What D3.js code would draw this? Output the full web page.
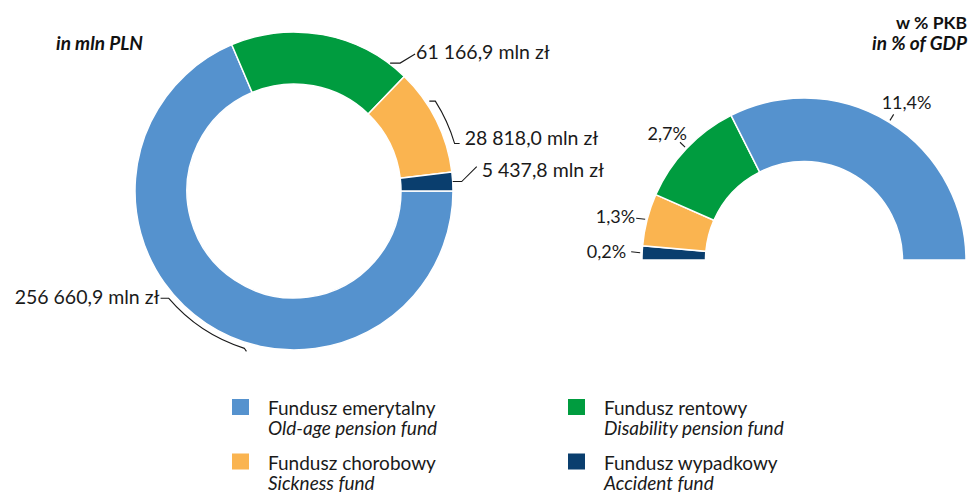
<!DOCTYPE html>
<html>
<head>
<meta charset="utf-8">
<script src="https://cdn.jsdelivr.net/npm/d3@7"></script>
<style>
  body { margin: 0; background: #fff; }
  svg { display: block; font-family: Lato, "Open Sans", sans-serif; }
</style>
</head>
<body>
<script>
// funds, in the order they are drawn (clockwise from 3 o'clock on the left ring)
const categories = ['Fundusz emerytalny', 'Fundusz rentowy', 'Fundusz chorobowy', 'Fundusz wypadkowy'];
const categoriesEn = ['Old-age pension fund', 'Disability pension fund', 'Sickness fund', 'Accident fund'];
// labelled values
const valuesPLN = [256660.9, 61166.9, 28818.0, 5437.8];
const valuesGDP = [11.4, 2.7, 1.3, 0.2];
// slice sizes as they are drawn in the picture (% of the ring)
const sliceLeft = [68.6, 18.6, 10.9, 1.9];
const sliceRight = [64.8, 21.9, 10.4, 2.8];

const width = 973, height = 493;
const deg = Math.PI / 180;

const color = d3.scaleOrdinal()
	.domain(categories)
	.range(['#5592ce', '#009c3f', '#fab450', '#0a3e6e']);

const pl = d3.formatLocale({ decimal: ',', thousands: '\u00a0', grouping: [3], currency: ['', ''] });
const fmt = pl.format(',.1f');

const svg = d3.select('body').append('svg')
	.attr('width', width)
	.attr('height', height);

svg.append('rect')
	.attr('width', width)
	.attr('height', height)
	.attr('fill', '#fff');

const rows = categories.map((c, i) => ({
	name: c, en: categoriesEn[i], pln: valuesPLN[i], gdp: valuesGDP[i],
	left: sliceLeft[i], right: sliceRight[i], i
}));

// point on a circle for a pie angle (0 = 12 o'clock, clockwise)
const pointAt = (cx, cy, a, r) => [cx + r * Math.sin(a), cy - r * Math.cos(a)];

// ---------- left ring: mln PLN ----------
const L = { cx: 294, cy: 191, R: 159, r: 107 };

const pieLeft = d3.pie()
	.sort(null)
	.value(d => d.left)
	.startAngle(Math.PI / 2)
	.endAngle(Math.PI / 2 + 2 * Math.PI);

const arcLeft = d3.arc().innerRadius(L.r).outerRadius(L.R);
const gL = svg.append('g').attr('transform', `translate(${L.cx},${L.cy})`);

const slicesL = pieLeft(rows);
gL.selectAll('path.slice')
	.data(slicesL)
	.join('path')
	.attr('class', 'slice')
	.attr('d', arcLeft)
	.attr('fill', d => color(d.data.name))
	.attr('stroke', '#fff')
	.attr('stroke-width', 1.5);

const leaderL = svg.append('g')
	.attr('fill', 'none')
	.attr('stroke', '#1a1a1a')
	.attr('stroke-width', 1.1);
const labelL = svg.append('g')
	.attr('font-size', 19.5)
	.attr('fill', '#1a1a1a');

slicesL.forEach(s => {
	const mid = (s.startAngle + s.endAngle) / 2;
	const txt = fmt(s.data.pln) + ' mln zł';
	const p = d3.path();
	let tx, ty, anchor = 'start';
	if (s.data.i === 0) {
		// bracket along the outside of the big slice, text to the left
		const rb = L.R + 6;
		const a0 = mid + 16 * deg, a1 = mid - 16 * deg;
		const b0 = pointAt(L.cx, L.cy, a0, rb), b1 = pointAt(L.cx, L.cy, a1, rb);
		p.moveTo(b0[0] - 8, b0[1]);
		p.lineTo(b0[0], b0[1]);
		p.arc(L.cx, L.cy, rb, a0 - Math.PI / 2, a1 - Math.PI / 2, true);
		p.lineTo(b1[0] + 2, b1[1] + 3);
		tx = b0[0] - 9; ty = b0[1] + 6; anchor = 'end';
	} else if (s.data.i === 1) {
		const p0 = pointAt(L.cx, L.cy, s.endAngle - 7 * deg, L.R + 1);
		p.moveTo(p0[0], p0[1]);
		p.lineTo(p0[0] + 10, p0[1]);
		p.lineTo(p0[0] + 25, p0[1] - 9);
		tx = p0[0] + 26; ty = p0[1] - 4;
	} else if (s.data.i === 2) {
		const rb = L.R + 8.5;
		const a0 = mid - 6 * deg, a1 = mid + 10 * deg;
		const b0 = pointAt(L.cx, L.cy, a0, rb), b1 = pointAt(L.cx, L.cy, a1, rb);
		p.moveTo(b0[0] - 6, b0[1]);
		p.lineTo(b0[0], b0[1]);
		p.arc(L.cx, L.cy, rb, a0 - Math.PI / 2, a1 - Math.PI / 2, false);
		p.lineTo(b1[0] + 5, b1[1]);
		tx = b1[0] + 10; ty = b1[1] + 1;
	} else {
		const p0 = pointAt(L.cx, L.cy, mid, L.R);
		p.moveTo(p0[0], p0[1]);
		p.lineTo(p0[0] + 9, p0[1]);
		p.lineTo(p0[0] + 24, p0[1] - 15);
		tx = p0[0] + 29; ty = p0[1] - 5;
	}
	leaderL.append('path').attr('d', p.toString());
	labelL.append('text')
		.attr('x', tx).attr('y', ty)
		.attr('text-anchor', anchor)
		.text(txt);
});

svg.append('text')
	.attr('x', 56).attr('y', 50)
	.attr('font-size', 19)
	.attr('font-weight', 700)
	.attr('font-style', 'italic')
	.attr('fill', '#111')
	.text('in mln PLN');

// ---------- right half ring: % of GDP ----------
const Rg = { cx: 804, cy: 260, R: 162, r: 98.5 };

const pieRight = d3.pie()
	.sort(null)
	.value(d => d.right)
	.startAngle(-Math.PI / 2)
	.endAngle(Math.PI / 2);

const arcRight = d3.arc().innerRadius(Rg.r).outerRadius(Rg.R);
const gR = svg.append('g').attr('transform', `translate(${Rg.cx},${Rg.cy})`);

// drawn left to right over the top: accident, sickness, disability, old-age
const slicesR = pieRight(rows.slice().reverse());
gR.selectAll('path.slice')
	.data(slicesR)
	.join('path')
	.attr('class', 'slice')
	.attr('d', arcRight)
	.attr('fill', d => color(d.data.name))
	.attr('stroke', '#fff')
	.attr('stroke-width', 1.5);

const leaderR = svg.append('g')
	.attr('fill', 'none')
	.attr('stroke', '#1a1a1a')
	.attr('stroke-width', 1.1);
const labelR = svg.append('g')
	.attr('font-size', 18)
	.attr('fill', '#1a1a1a');

slicesR.forEach(s => {
	const mid = (s.startAngle + s.endAngle) / 2;
	const txt = fmt(s.data.gdp) + '%';
	const p0 = pointAt(Rg.cx, Rg.cy, mid, Rg.R + 2);
	let p1, tx, ty, anchor;
	if (s.data.i <= 1) {
		// radial tick
		p1 = pointAt(Rg.cx, Rg.cy, mid, Rg.R + 9);
		if (s.data.i === 0) { tx = p1[0] - 12; ty = p1[1] - 5; anchor = 'start'; }
		else { tx = p1[0] + 7; ty = p1[1] - 2; anchor = 'end'; }
	} else {
		// short horizontal tick
		p1 = [p0[0] - 9, p0[1] - 1];
		if (s.data.i === 2) { tx = p1[0] - 1; ty = p1[1] + 5; }
		else { tx = p1[0] - 5; ty = p1[1] + 6.5; }
		anchor = 'end';
	}
	leaderR.append('line')
		.attr('x1', p0[0]).attr('y1', p0[1])
		.attr('x2', p1[0]).attr('y2', p1[1]);
	labelR.append('text')
		.attr('x', tx).attr('y', ty)
		.attr('text-anchor', anchor)
		.text(txt);
});

const head = svg.append('g')
	.attr('font-weight', 700)
	.attr('fill', '#111')
	.attr('text-anchor', 'end');
head.append('text').attr('x', 967).attr('y', 29).attr('font-size', 17.5).text('w % PKB');
head.append('text').attr('x', 967).attr('y', 50).attr('font-size', 19)
	.attr('font-style', 'italic').text('in % of GDP');

// ---------- legend ----------
const legendOrder = [0, 2, 1, 3];
const legendX = d3.scalePoint().domain([0, 1]).range([232, 568]);
const legendY = d3.scalePoint().domain([0, 1]).range([399, 453.5]);

const leg = svg.append('g').selectAll('g')
	.data(legendOrder.map((k, j) => ({ row: rows[k], col: Math.floor(j / 2), line: j % 2 })))
	.join('g')
	.attr('transform', d => `translate(${legendX(d.col)},${legendY(d.line)})`);

leg.append('rect')
	.attr('width', 17).attr('height', 16)
	.attr('fill', d => color(d.row.name));

leg.append('text')
	.attr('x', 36).attr('y', 16)
	.attr('font-size', 19)
	.attr('fill', '#1a1a1a')
	.text(d => d.row.name);

leg.append('text')
	.attr('x', 36).attr('y', 36)
	.attr('font-size', 19)
	.attr('font-style', 'italic')
	.attr('fill', '#1a1a1a')
	.text(d => d.row.en);
</script>
</body>
</html>
